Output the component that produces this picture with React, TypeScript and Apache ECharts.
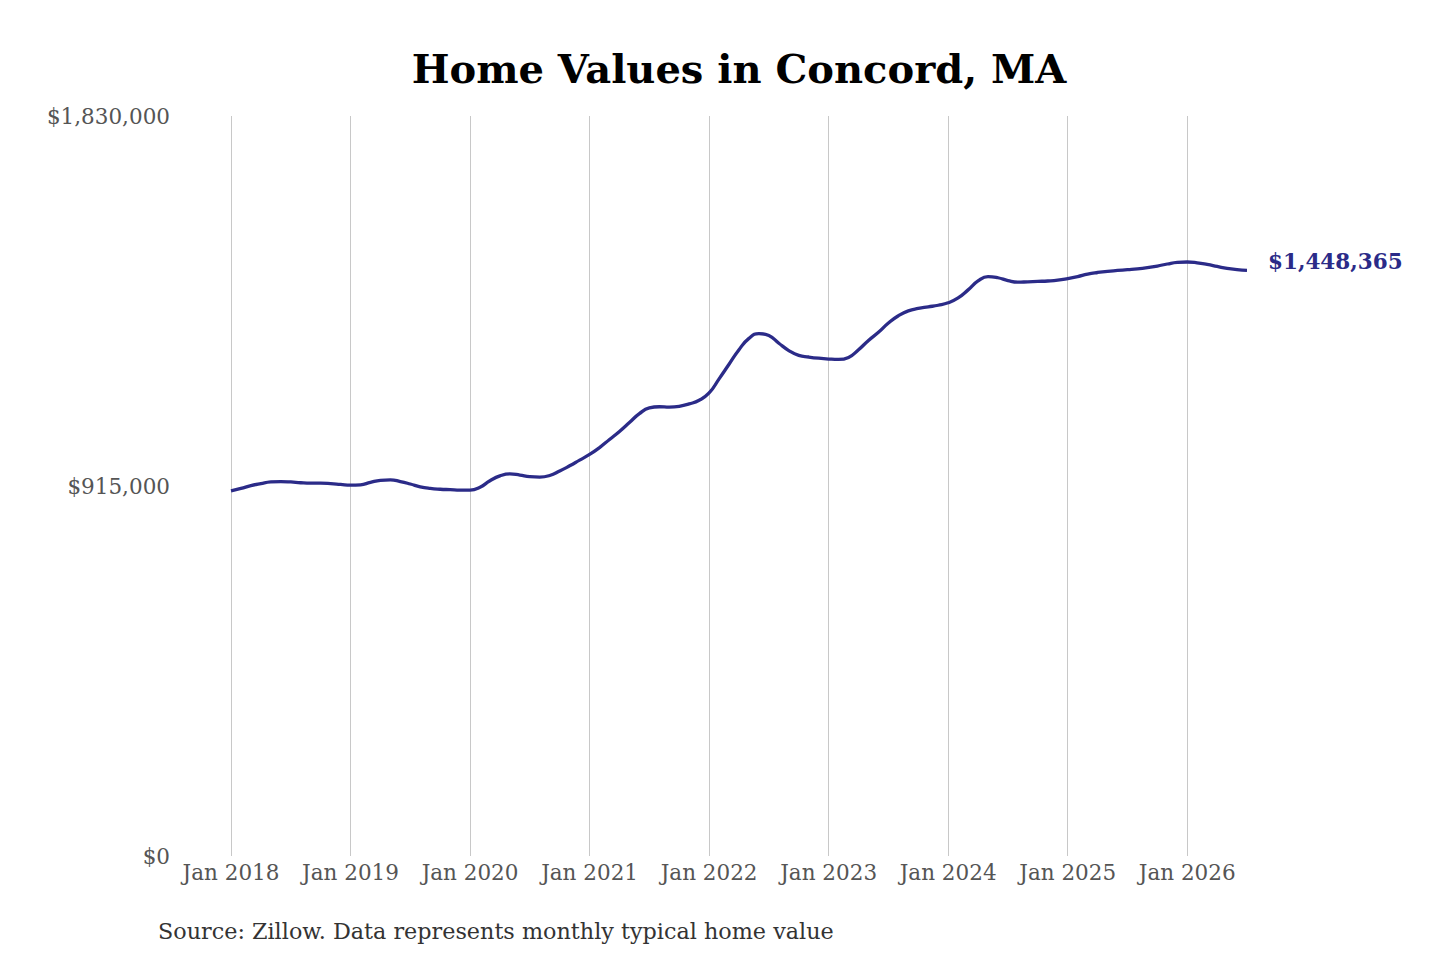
import React, { useEffect, useRef } from "react";
import * as echarts from "echarts";

const chartTitle = "Home Values in Concord, MA";
const sourceNote = "Source: Zillow. Data represents monthly typical home value";
const years = [2018, 2019, 2020, 2021, 2022, 2023, 2024, 2025, 2026];
const monthNames = ["Jan", "Feb", "Mar", "Apr", "May", "Jun", "Jul", "Aug", "Sep", "Oct", "Nov", "Dec"];
const tickLabels = ["Jan 2018", "Jan 2019", "Jan 2020", "Jan 2021", "Jan 2022", "Jan 2023", "Jan 2024", "Jan 2025", "Jan 2026"];
const yTicks = [0, 915000, 1830000];

// Monthly typical home value, Jan 2018 - Jul 2026
const values2018 = [903000, 909000, 916000, 921000, 925000, 926000, 925000, 923000, 922000, 922000, 921000, 919000];
const values2019 = [917000, 918000, 924000, 929000, 930000, 926000, 920000, 913000, 909000, 907000, 906000, 905000];
const values2020 = [905000, 912000, 928000, 940000, 945000, 942000, 938000, 937000, 941000, 952000, 965000, 979000];
const values2021 = [993000, 1010000, 1030000, 1050000, 1072000, 1094000, 1108000, 1111000, 1110000, 1112000, 1118000, 1127000];
const values2022 = [1145000, 1180000, 1216000, 1252000, 1280000, 1292000, 1287000, 1268000, 1250000, 1238000, 1234000, 1231000];
const values2023 = [1229000, 1228000, 1233000, 1252000, 1275000, 1295000, 1318000, 1336000, 1348000, 1354000, 1358000, 1362000];
const values2024 = [1368000, 1380000, 1400000, 1422000, 1433000, 1430000, 1423000, 1419000, 1420000, 1421000, 1422000, 1424000];
const values2025 = [1428000, 1433000, 1439000, 1443000, 1446000, 1448000, 1450000, 1452000, 1455000, 1459000, 1464000, 1468000];
const values2026 = [1469000, 1467000, 1463000, 1458000, 1453000, 1450000, 1448365];

const values = [
  ...values2018, ...values2019, ...values2020, ...values2021, ...values2022,
  ...values2023, ...values2024, ...values2025, ...values2026,
];

const months: string[] = [];
years.forEach((y) => monthNames.forEach((m) => months.push(`${m} ${y}`)));
const categories = months.slice(0, values.length);

const FONT = "DejaVu Serif";
const LINE_COLOR = "#2b2b88";

const fmt = (v: number) => "$" + Math.round(v).toLocaleString("en-US");

export default function App() {
  const ref = useRef<HTMLDivElement>(null);

  useEffect(() => {
    if (!ref.current) return;
    const chart = echarts.init(ref.current, undefined, { renderer: "svg" });
    const isTick = (_i: number, v: string) => tickLabels.includes(v);
    chart.setOption({
      animation: false,
      backgroundColor: "#ffffff",
      grid: { left: 231, right: 193, top: 116, bottom: 104 },
      xAxis: {
        type: "category",
        data: categories,
        boundaryGap: false,
        axisLine: { show: false },
        axisTick: { show: false },
        axisLabel: {
          interval: isTick,
          color: "#555555",
          fontFamily: FONT,
          fontSize: 21.5,
          margin: 5,
        },
        splitLine: {
          show: true,
          interval: isTick,
          lineStyle: { color: "#c8c8c8", width: 1 },
        },
      },
      yAxis: {
        type: "value",
        min: yTicks[0],
        max: yTicks[yTicks.length - 1],
        interval: yTicks[1] - yTicks[0],
        axisLine: { show: false },
        axisTick: { show: false },
        splitLine: { show: false },
        axisLabel: {
          formatter: (v: number) => fmt(v),
          color: "#555555",
          fontFamily: FONT,
          fontSize: 21.5,
          margin: 61,
        },
      },
      graphic: [
        {
          type: "text",
          x: 739,
          y: 68,
          style: {
            text: chartTitle,
            fill: "#000000",
            font: `bold 40px "${FONT}"`,
            textAlign: "center",
            textVerticalAlign: "middle",
          },
        },
        {
          type: "text",
          x: 158,
          y: 931,
          style: {
            text: sourceNote,
            fill: "#333333",
            font: `22.3px "${FONT}"`,
            textAlign: "left",
            textVerticalAlign: "middle",
          },
        },
      ],
      series: [
        {
          type: "line",
          data: values,
          smooth: true,
          showSymbol: false,
          lineStyle: { color: LINE_COLOR, width: 3.3 },
          itemStyle: { color: LINE_COLOR },
          endLabel: {
            show: true,
            formatter: (p: any) => fmt(p.value),
            color: LINE_COLOR,
            fontFamily: FONT,
            fontWeight: "bold",
            fontSize: 21.5,
            distance: 21,
            offset: [0, -9],
          },
        },
      ],
    });
    return () => chart.dispose();
  }, []);

  return (
    <div
      ref={ref}
      style={{ position: "fixed", left: 0, top: 0, width: 1440, height: 960, background: "#fff" }}
    />
  );
}
